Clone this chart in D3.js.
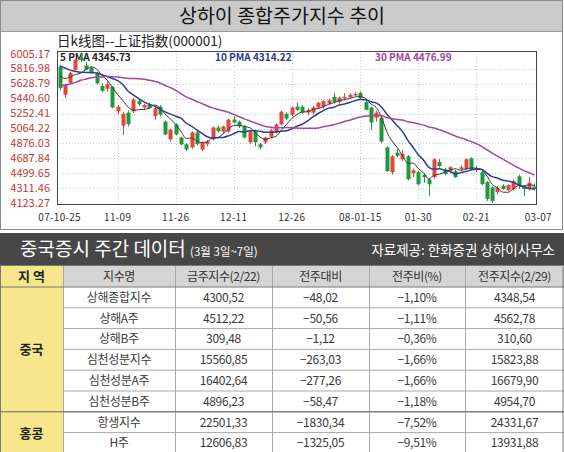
<!DOCTYPE html>
<html>
<head>
<meta charset="utf-8">
<script src="https://cdn.jsdelivr.net/npm/d3@7"></script>
<style>
body { margin: 0; background: #fff; }
text { font-family: "Noto Sans CJK KR", "Noto Sans", sans-serif; }
</style>
</head>
<body>
<script>
// trading days 2007-10-25 .. 2008-03-07
let days = [
  '10-25','10-26','10-29','10-30','10-31',
  '11-01','11-02','11-05','11-06','11-07','11-08','11-09','11-12','11-13','11-14','11-15','11-16',
  '11-19','11-20','11-21','11-22','11-23','11-26','11-27','11-28','11-29','11-30',
  '12-03','12-04','12-05','12-06','12-07','12-10','12-11','12-12','12-13','12-14','12-17','12-18',
  '12-19','12-20','12-21','12-24','12-25','12-26','12-27','12-28','12-31',
  '01-02','01-03','01-04','01-07','01-08','01-09','01-10','01-11','01-14','01-15','01-16','01-17',
  '01-18','01-21','01-22','01-23','01-24','01-25','01-28','01-29','01-30','01-31',
  '02-01','02-04','02-05','02-13','02-14','02-15','02-18','02-19','02-20','02-21','02-22','02-25',
  '02-26','02-27','02-28','02-29',
  '03-03','03-04','03-05','03-06','03-07'
]
let open = [
  5840,5490,5641,5805,5955,5860,5830,5760,5600,5565,5590,5285,5100,5265,5280,5410,5330,5370,5220,5340,
  5150,4926,5115,4950,4865,4826,5015,4800,4865,4926,5077,5026,5026,5177,5150,5090,4890,5026,4865,4890,
  4960,5015,5115,5250,5240,5340,5340,5265,5265,5330,5340,5380,5465,5400,5445,5460,5490,5515,5400,5330,
  5200,5200,4826,4512,4760,4675,4713,4500,4512,4480,4420,4450,4640,4550,4525,4525,4550,4550,4688,4540,
  4512,4386,4320,4260,4340,4285,4300,4460,4340,4300,4330
]
let high = [
  5860,5630,5780,5940,6005.17,5905,5850,5780,5640,5650,5600,5360,5275,5290,5450,5430,5380,5390,5345,5360,
  5165,5060,5130,4960,4880,5030,5040,4900,4920,5090,5100,5100,5190,5220,5165,5110,5040,5040,4880,4960,
  5060,5130,5290,5270,5340,5390,5360,5320,5350,5400,5420,5440,5515,5470,5510,5510,5522,5530,5440,5340,
  5290,5220,4840,4730,4800,4790,4730,4560,4530,4500,4440,4690,4680,4570,4590,4545,4600,4690,4700,4590,
  4530,4400,4330,4340,4360,4360,4420,4480,4350,4450,4370
]
let low = [
  5545,5450,5630,5790,5900,5800,5760,5620,5520,5530,5320,5250,4980,5090,5260,5350,5300,5310,5170,5220,
  4980,4900,4980,4850,4780,4810,4850,4780,4840,4910,5010,5000,5010,5130,5070,4940,4870,4840,4800,4870,
  4940,5000,5100,5170,5220,5290,5250,5230,5240,5310,5320,5360,5380,5380,5420,5440,5470,5430,5290,5050,
  5150,4880,4520,4480,4700,4650,4410,4450,4350,4380,4210,4430,4570,4470,4500,4440,4530,4540,4540,4520,
  4350,4150,4123.27,4230,4290,4270,4280,4300,4210,4280,4280
]
let close = [
  5575,5616,5766,5930,5930,5810,5777,5634,5540,5625,5330,5340,5250,5120,5430,5370,5360,5325,5320,5240,
  4990,5050,4990,4863,4800,5015,4865,4890,4900,5077,5030,5090,5177,5140,5090,4950,5026,4890,4826,4950,
  5040,5115,5277,5190,5330,5300,5265,5300,5330,5390,5410,5420,5400,5455,5465,5490,5500,5445,5300,5140,
  5265,4900,4525,4713,4720,4745,4424,4537,4360,4450,4360,4675,4590,4490,4575,4450,4575,4675,4550,4565,
  4360,4173,4150,4320,4300,4348.54,4400,4340,4300,4380,4300.52
]
// closes before the first visible day, needed for the 30 day average
let priorCloses = [
  5278,5356,5293,5172,5316,5322,5421,5399,5425,5454,5497,5491,5425,5394,5485,5552,
  5692,5715,5913,5903,5871,6030,6092,6036,5825,5818,5667,5773,5843
]
let yTicks = [6005.17,5816.98,5628.79,5440.60,5252.41,5064.22,4876.03,4687.84,4499.65,4311.46,4123.27]
let xTickDays = ['10-25','11-09','11-26','12-11','12-26','01-15','01-30','02-21','03-07']
let xTickLabels = ['07-10-25','11-09','11-26','12-11','12-26','08-01-15','01-30','02-21','03-07']
let maPeriods = [5, 10, 30]
let maLabels = ['5 PMA 4345.73', '10 PMA 4314.22', '30 PMA 4476.99']

// table
let regions = ['중국', '홍콩']
let regionRows = [6, 2]
let columns = ['지수명', '금주지수(2/22)', '전주대비', '전주비(%)', '전주지수(2/29)']
let indexNames = ['상해종합지수','상해A주','상해B주','심천성분지수','심천성분A주','심천성분B주','항생지수','H주']
let thisWeek = [4300.52, 4512.22, 309.48, 15560.85, 16402.64, 4896.23, 22501.33, 12606.83]
let weekChange = [-48.02, -50.56, -1.12, -263.03, -277.26, -58.47, -1830.34, -1325.05]
let weekChangePct = [-1.10, -1.11, -0.36, -1.66, -1.66, -1.18, -7.52, -9.51]
let lastWeek = [4348.54, 4562.78, 310.60, 15823.88, 16679.90, 4954.70, 24331.67, 13931.88]

let W = 564, H = 452
let svg = d3.select('body').append('svg').attr('width', W).attr('height', H)

// ---- chart panel
svg.append('rect').attr('x', 0.5).attr('y', 0.5).attr('width', W - 2).attr('height', 229)
  .attr('fill', '#fff').attr('stroke', '#8c8c8c')
svg.append('rect').attr('x', 1).attr('y', 1).attr('width', W - 3).attr('height', 30)
  .attr('fill', '#cacaca')
svg.append('line').attr('x1', 1).attr('x2', W - 2).attr('y1', 31.5).attr('y2', 31.5).attr('stroke', '#9a9a9a')
svg.append('text').attr('x', 282).attr('y', 23).attr('text-anchor', 'middle')
  .attr('font-size', 19.5).attr('fill', '#111').text('상하이 종합주가지수 추이')
svg.append('text').attr('x', 57).attr('y', 46)
  .attr('font-family', '"Noto Sans CJK SC", sans-serif')
  .attr('font-size', 13.5).attr('fill', '#222').text('日k线图--上证指数(000001)')

let plot = { left: 57, right: 537, top: 51, bottom: 205 }

let x = d3.scaleBand().domain(days).range([plot.left, plot.right]).paddingInner(0.3).paddingOuter(0.15)
let y = d3.scaleLinear().domain([4123.27, 6005.17]).range([203, 54])
let cx = d => x(d) + x.bandwidth() / 2

let g = svg.append('g')
g.append('rect').attr('x', plot.left).attr('y', plot.top)
  .attr('width', plot.right - plot.left).attr('height', plot.bottom - plot.top).attr('fill', '#fff')

// grid
g.selectAll('.hgrid').data(yTicks.slice(1, -1)).enter().append('line')
  .attr('x1', plot.left).attr('x2', plot.right)
  .attr('y1', d => Math.round(y(d)) + 0.5).attr('y2', d => Math.round(y(d)) + 0.5)
  .attr('stroke', '#c8c8c8').attr('stroke-dasharray', '1,2')
g.selectAll('.vgrid').data(xTickDays.slice(1, -1)).enter().append('line')
  .attr('x1', d => Math.round(cx(d)) + 0.5).attr('x2', d => Math.round(cx(d)) + 0.5)
  .attr('y1', plot.top).attr('y2', plot.bottom)
  .attr('stroke', '#c8c8c8').attr('stroke-dasharray', '1,2')

// y labels
g.selectAll('.ylab').data(yTicks).enter().append('text')
  .attr('x', 50).attr('y', d => y(d) + 3.5).attr('text-anchor', 'end')
  .attr('font-family', '"Liberation Sans Narrow", "Liberation Sans", sans-serif')
  .attr('font-size', 11).attr('fill', '#c0393a')
  .text(d => d.toFixed(2))

// x labels
g.selectAll('.xlab').data(xTickDays).enter().append('text')
  .attr('x', (d, i) => cx(d) + (i == xTickDays.length - 1 ? 4 : 0)).attr('y', 221).attr('text-anchor', 'middle')
  .attr('font-family', '"Liberation Sans", Arial, sans-serif')
  .attr('font-size', 10).attr('fill', '#333').attr('letter-spacing', 0.3)
  .text((d, i) => xTickLabels[i])

// legend
let legendColors = ['#222', '#2b3a8f', '#a0449c']
let legendX = [60, 215, 375]
g.selectAll('.leg').data(maLabels).enter().append('text')
  .attr('x', (d, i) => legendX[i]).attr('y', 61)
  .attr('font-family', '"DejaVu Sans Mono", monospace').attr('font-weight', 'bold')
  .attr('font-size', 10).attr('fill', (d, i) => legendColors[i])
  .text(d => d)

// candles
let candles = g.selectAll('.candle').data(days).enter().append('g')
let colorOf = i => close[i] >= open[i] ? '#e0473d' : '#1f9a3a'
candles.append('line')
  .attr('x1', d => Math.round(cx(d)) + 0.5).attr('x2', d => Math.round(cx(d)) + 0.5)
  .attr('y1', (d, i) => y(high[i])).attr('y2', (d, i) => y(low[i]))
  .attr('stroke', (d, i) => colorOf(i))
candles.append('rect')
  .attr('x', d => Math.round(cx(d)) - 1.5).attr('width', 4)
  .attr('y', (d, i) => y(Math.max(open[i], close[i])))
  .attr('height', (d, i) => Math.max(1.5, Math.abs(y(open[i]) - y(close[i]))))
  .attr('fill', (d, i) => colorOf(i))

// moving averages
let allCloses = priorCloses.concat(close)
let ma = n => close.map((c, i) => {
  let end = i + priorCloses.length + 1
  return d3.mean(allCloses.slice(end - n, end))
})
let line = d3.line().x((d, i) => cx(days[i])).y(d => y(d)).curve(d3.curveMonotoneX)
let maColors = ['#3a3a3a', '#2d3d96', '#a4479f']
let maWidths = [1, 1.5, 1.5]
maPeriods.forEach((n, k) => {
  g.append('path').datum(ma(n)).attr('d', line)
    .attr('fill', 'none').attr('stroke', maColors[k]).attr('stroke-width', maWidths[k])
})

g.append('rect').attr('x', plot.left + 0.5).attr('y', plot.top + 0.5)
  .attr('width', plot.right - plot.left - 1).attr('height', plot.bottom - plot.top - 1)
  .attr('fill', 'none').attr('stroke', '#444')

// ---- table header band
svg.append('rect').attr('x', 0).attr('y', 233).attr('width', W).attr('height', 32).attr('fill', '#474747')
let band = svg.append('text').attr('x', 20).attr('y', 256).attr('fill', '#fff')
band.append('tspan').attr('font-size', 19).text('중국증시 주간 데이터 ')
band.append('tspan').attr('font-size', 11.5).text('(3월 3일~7일)')
svg.append('text').attr('x', 555).attr('y', 255).attr('text-anchor', 'end')
  .attr('font-size', 13.5).attr('fill', '#fff').text('자료제공: 한화증권 상하이사무소')

// ---- table
let colX = [0, 63, 175, 272, 369, 465, W]
let headTop = 265, headH = 22, rowH = 20.8
let rowTop = headTop + headH
let fmt = v => d3.format('.2f')(v).replace('.', ',').replace('-', '–')

let t = svg.append('g')
// header
t.append('rect').attr('x', colX[0]).attr('y', headTop).attr('width', colX[1] - colX[0]).attr('height', headH).attr('fill', '#f6e78c')
t.append('rect').attr('x', colX[1]).attr('y', headTop).attr('width', W - colX[1]).attr('height', headH).attr('fill', '#d5d5d5')
t.append('text').attr('x', (colX[0] + colX[1]) / 2).attr('y', headTop + 16).attr('text-anchor', 'middle')
  .attr('font-size', 13).attr('font-weight', 'bold').attr('fill', '#222').text('지 역')
t.selectAll('.head').data(columns).enter().append('text')
  .attr('x', (d, i) => (colX[i + 1] + colX[i + 2]) / 2).attr('y', headTop + 15.5).attr('text-anchor', 'middle')
  .attr('font-size', 12).attr('fill', '#333').attr('letter-spacing', -0.4).text(d => d)

// region cells
let start = 0
regions.forEach((r, k) => {
  let y0 = rowTop + start * rowH, h = regionRows[k] * rowH
  t.append('rect').attr('x', colX[0]).attr('y', y0).attr('width', colX[1]).attr('height', h).attr('fill', '#f6e78c')
  t.append('text').attr('x', (colX[0] + colX[1]) / 2).attr('y', y0 + h / 2 + 5).attr('text-anchor', 'middle')
    .attr('font-size', 13).attr('font-weight', 'bold').attr('fill', '#222').text(r)
  start += regionRows[k]
})

// rows
let rows = t.selectAll('.row').data(indexNames).enter().append('g')
  .attr('transform', (d, i) => `translate(0,${rowTop + i * rowH})`)
rows.append('rect').attr('x', colX[1]).attr('width', W - colX[1]).attr('height', rowH).attr('fill', '#fff')
let cellText = (col, val) => rows.append('text')
  .attr('x', (colX[col] + colX[col + 1]) / 2).attr('y', rowH / 2 + 4.5).attr('text-anchor', 'middle')
  .attr('font-size', 12).attr('fill', '#3a3a3a').attr('letter-spacing', -0.3).text(val)
cellText(1, d => d)
cellText(2, (d, i) => fmt(thisWeek[i]))
cellText(3, (d, i) => fmt(weekChange[i]))
cellText(4, (d, i) => fmt(weekChangePct[i]) + '%')
cellText(5, (d, i) => fmt(lastWeek[i]))

// borders
let tableBottom = rowTop + indexNames.length * rowH
indexNames.forEach((d, i) => {
  if (i == 0) return
  t.append('line').attr('x1', colX[1]).attr('x2', W).attr('y1', rowTop + i * rowH).attr('y2', rowTop + i * rowH)
    .attr('stroke', '#a8a8a8')
})
colX.slice(1, -1).forEach(cx0 => {
  t.append('line').attr('x1', cx0 + 0.5).attr('x2', cx0 + 0.5).attr('y1', headTop).attr('y2', tableBottom)
    .attr('stroke', '#a8a8a8')
})
t.append('line').attr('x1', 0).attr('x2', W).attr('y1', rowTop).attr('y2', rowTop).attr('stroke', '#777')
t.append('line').attr('x1', 0).attr('x2', W).attr('y1', rowTop + 6 * rowH).attr('y2', rowTop + 6 * rowH).attr('stroke', '#666')
t.append('rect').attr('x', 0.5).attr('y', headTop + 0.5).attr('width', W - 1.5).attr('height', tableBottom - headTop)
  .attr('fill', 'none').attr('stroke', '#777')
</script>
</body>
</html>
